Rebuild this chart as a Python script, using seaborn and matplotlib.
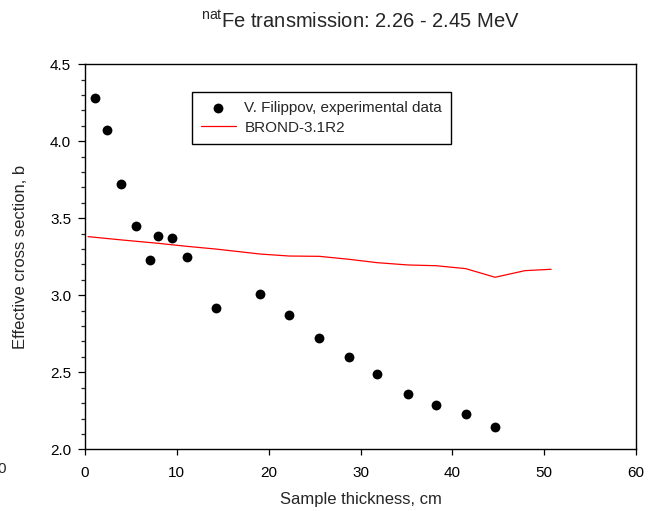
import numpy as np
import pandas as pd
import matplotlib
matplotlib.use("Agg")
import matplotlib.pyplot as plt
from matplotlib.ticker import MultipleLocator
import seaborn as sns

# Experimental data (V. Filippov)
exp_thickness = [1.1, 2.36, 3.89, 5.56, 7.08, 7.92, 9.51, 11.11, 14.27, 19.06,
                 22.26, 25.53, 28.72, 31.8, 35.15, 38.27, 41.47, 44.66]
exp_sigma = [4.282, 4.075, 3.72, 3.452, 3.231, 3.387, 3.374, 3.251, 2.918, 3.010,
             2.872, 2.721, 2.601, 2.489, 2.359, 2.290, 2.229, 2.143]

# BROND-3.1R2 evaluation
calc_thickness = [0.33, 3.9, 7.9, 11.1, 14.3, 19.06, 22.26, 25.53, 28.72, 31.8,
                  35.15, 38.27, 41.47, 44.66, 47.9, 50.76]
calc_sigma = [3.381, 3.36, 3.338, 3.318, 3.30, 3.268, 3.255, 3.253, 3.234, 3.212,
              3.197, 3.192, 3.173, 3.117, 3.160, 3.169]

exp_label = "V. Filippov, experimental data"
calc_label = "BROND-3.1R2"
title_text = r"$^{\mathrm{nat}}$Fe transmission: 2.26 - 2.45 MeV"
xlabel = "Sample thickness, cm"
ylabel = "Effective cross section, b"

sns.set_theme(style="ticks")
plt.rcParams["font.family"] = ["Liberation Sans", "DejaVu Sans"]
plt.rcParams["mathtext.fontset"] = "custom"
plt.rcParams["mathtext.rm"] = "Liberation Sans"
plt.rcParams["mathtext.it"] = "Liberation Sans:italic"
plt.rcParams["mathtext.bf"] = "Liberation Sans:bold"

df_exp = pd.DataFrame({"x": exp_thickness, "y": exp_sigma})
df_calc = pd.DataFrame({"x": calc_thickness, "y": calc_sigma})

fig = plt.figure(figsize=(6.48, 5.11), dpi=100)
ax = fig.add_axes([85 / 648, 1 - 449.3 / 511, (636 - 85) / 648, (449.3 - 64.3) / 511])

sns.scatterplot(data=df_exp, x="x", y="y", ax=ax, color="black", s=50,
                linewidth=0, label=exp_label, zorder=3)
sns.lineplot(data=df_calc, x="x", y="y", ax=ax, color="#ff0000", linewidth=0.9,
             label=calc_label, zorder=2)

ax.set_xlim(0, 60)
ax.set_ylim(2.0, 4.5)
ax.xaxis.set_major_locator(MultipleLocator(10))
ax.yaxis.set_major_locator(MultipleLocator(0.5))
ax.yaxis.set_minor_locator(MultipleLocator(0.1))
ax.yaxis.set_major_formatter(matplotlib.ticker.FormatStrFormatter("%.1f"))

for sp in ax.spines.values():
    sp.set_visible(True)
    sp.set_linewidth(1.0)
    sp.set_color("black")

ax.tick_params(axis="y", which="major", direction="out", length=5, width=0.9,
               pad=5, labelsize=11, colors="black", right=False)
ax.tick_params(axis="y", which="minor", direction="out", length=3, width=0.9,
               right=False, left=True)
ax.tick_params(axis="x", which="major", direction="out", length=4, width=0.9,
               pad=8, labelsize=11, colors="black", top=False)

ax.set_xlabel(xlabel, fontsize=12, labelpad=9)
ax.set_ylabel(ylabel, fontsize=12, labelpad=10)
ax.yaxis.set_label_coords(-(85 - 28.3) / 551, 0.5)

leg = ax.legend(loc="upper left", bbox_to_anchor=(191.7 / 648, 1 - 92.3 / 511),
                bbox_transform=fig.transFigure, frameon=True, fancybox=False,
                framealpha=1, edgecolor="black", fontsize=11, handlelength=2.3,
                handletextpad=0.55, borderpad=0.6, labelspacing=0.35,
                borderaxespad=0)
leg.get_frame().set_linewidth(1.0)

fig.text((85 + 636) / 2 / 648, 1 - 28 / 511, title_text, ha="center",
         va="baseline", fontsize=14.5)
fig.text(2 / 648, 1 - 468.5 / 511, "0", ha="center", va="center", fontsize=11)

fig.savefig("out.png", dpi=100)
